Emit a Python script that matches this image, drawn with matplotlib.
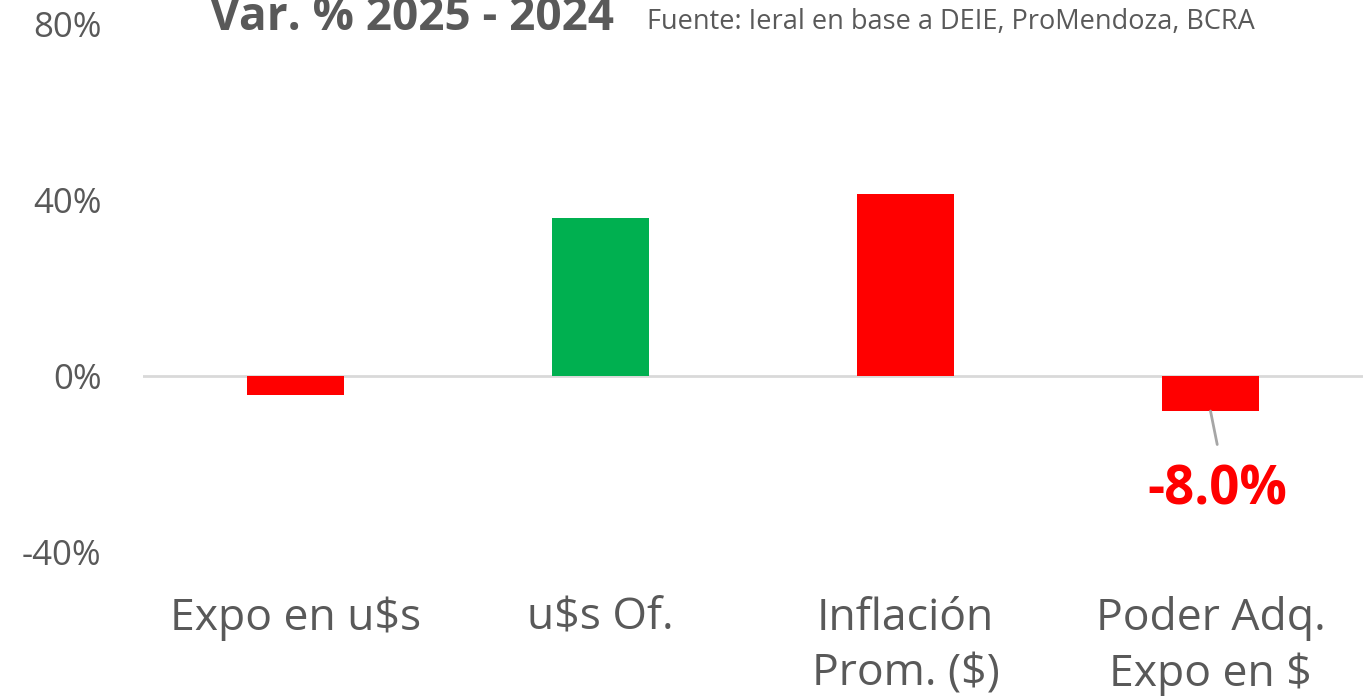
import matplotlib
matplotlib.use("Agg")
import matplotlib.pyplot as plt

categories = ["Expo en u$s", "u$s Of.", "Inflación\nProm. ($)", "Poder Adq.\nExpo en $"]
values = [-4.4, 35.9, 41.4, -8.0]
colors = ["#ff0000", "#00b050", "#ff0000", "#ff0000"]
yticks = [-40, 0, 40, 80]

plt.rcParams["font.family"] = ["Open Sans", "DejaVu Sans"]
gray = "#595959"

fig = plt.figure(figsize=(13.63, 6.96), dpi=100)
ax = fig.add_axes([0.105, 0.207, 0.895, 0.759])

x = range(len(categories))
ax.bar(x, values, width=0.32, color=colors, zorder=2)
ax.axhline(0, color="#d9d9d9", lw=2, zorder=1)

ax.set_ylim(-40, 80)
ax.set_xlim(-0.5, 3.5)
ax.set_yticks(yticks)
ax.set_yticklabels([f"{v}%" for v in yticks], fontsize=25, color=gray)
ax.set_xticks(list(x))
ax.set_xticklabels(categories, fontsize=32, color=gray, linespacing=1.33,
                   va="top")
ax.tick_params(axis="both", length=0)
ax.tick_params(axis="x", pad=32)
ax.tick_params(axis="y", pad=30)
for s in ax.spines.values():
    s.set_visible(False)

# label for the last bar with a leader line
ax.annotate("", xy=(3.0, values[3]), xytext=(3.022, -15.6),
            arrowprops=dict(arrowstyle="-", color="#a6a6a6", lw=2,
                            shrinkA=0, shrinkB=0))
ax.text(3.022, -26.0, f"{values[3]:.1f}%", ha="center", va="center",
        fontsize=38, fontweight="bold", color="#ff0000")

fig.text(0.154, 0.975, "Var. % 2025 - 2024", fontsize=33, fontweight="bold",
         color=gray, va="center", ha="left")
fig.text(0.475, 0.968, "Fuente: Ieral en base a DEIE, ProMendoza, BCRA",
         fontsize=19.5, color=gray, va="center", ha="left")

fig.savefig("out.png", dpi=100)
